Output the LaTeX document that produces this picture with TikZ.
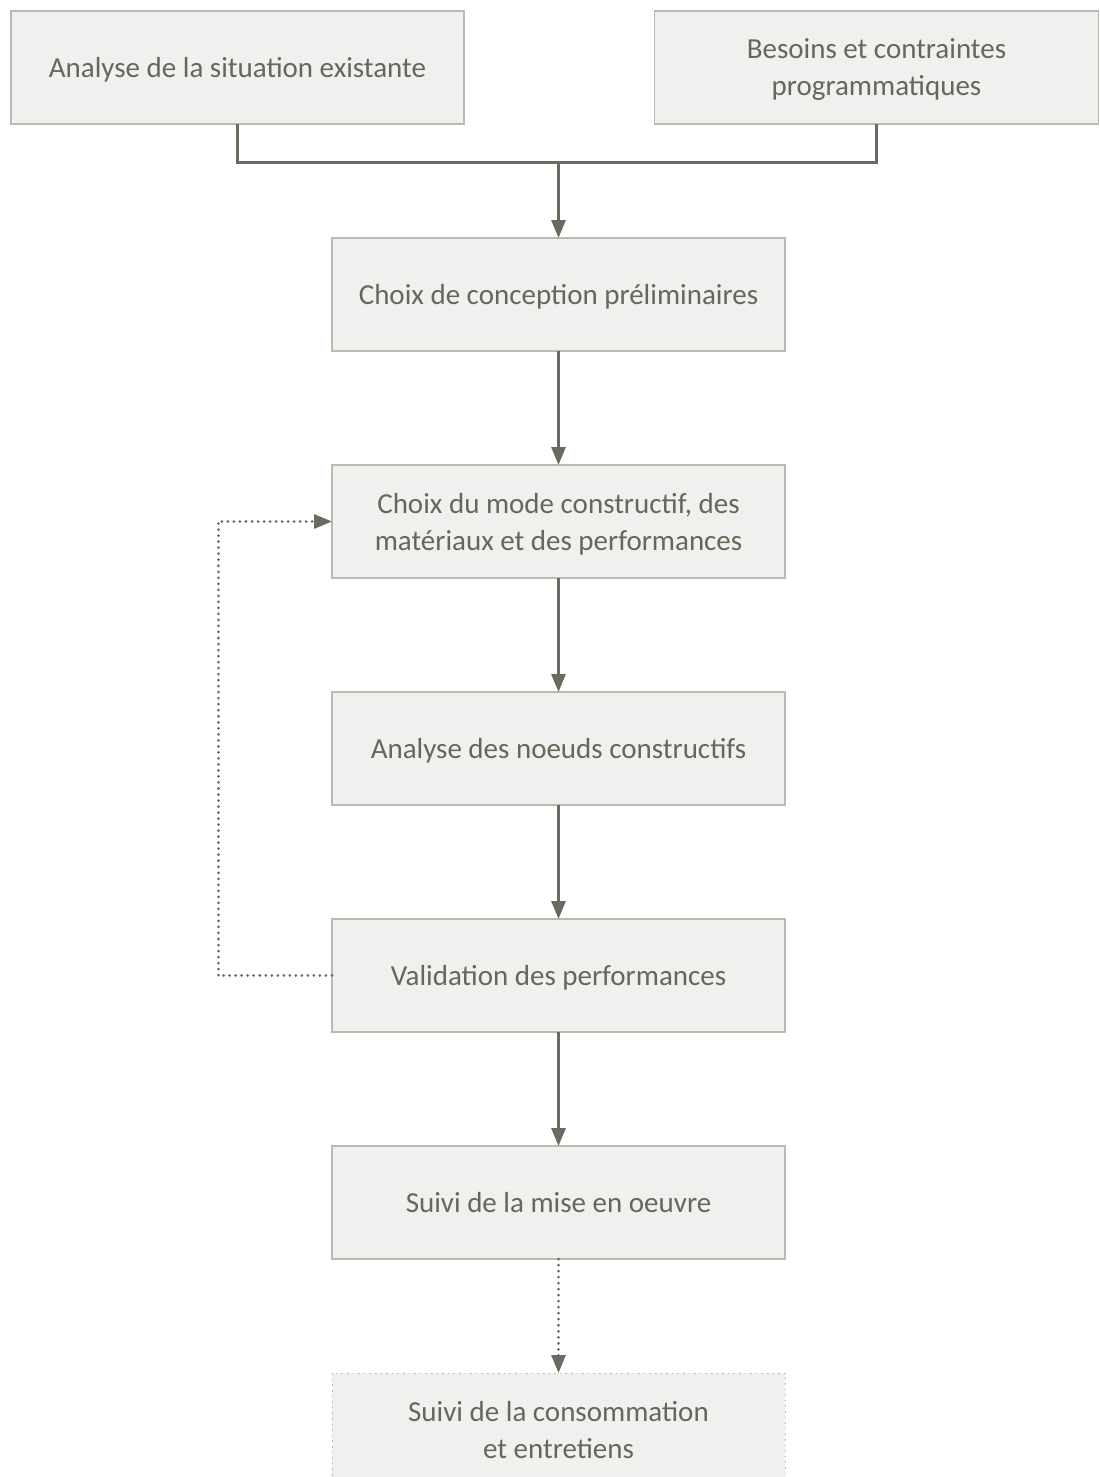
\documentclass[tikz,border=0pt]{standalone}
\usepackage{fontspec}
\setmainfont{Carlito}
\usetikzlibrary{arrows.meta, positioning}
\definecolor{boxfill}{HTML}{F0F0EE}
\definecolor{boxline}{HTML}{BCBAAC}
\definecolor{textgray}{HTML}{66675A}
\definecolor{linegray}{HTML}{6A6B5E}

\begin{document}
\begin{tikzpicture}[
            x=0.5pt, y=-0.5pt,
            node distance=57pt,
            block/.style={draw=boxline, line width=0.8pt, fill=boxfill, text=textgray, align=center, minimum width=226.5pt, minimum height=56.5pt, inner sep=0pt, outer sep=0pt, text depth=0pt, font=\fontsize{14.5}{18.5}\selectfont},
            lastblock/.style={block, dotted, line width=0.5pt},
            link/.style={draw=linegray, line width=1.5pt},
            arrow/.style={link, -{Triangle[length=9pt, width=7pt]}},
            dotarrow/.style={draw=linegray, line width=1.5pt, line cap=round, dash pattern=on 0.01pt off 3pt, -{Triangle[length=9pt, width=7pt]}}
        ]
            \useasboundingbox (0,0) rectangle (1099,1477);
            \node[block] (analyse) at (237.5,67.5) {Analyse de la situation existante};
            \node[block, minimum width=222pt] (besoins) at (876.5,67.5) {Besoins et contraintes\\programmatiques};
            \node[block] (conception) at (558.5,294.5) {Choix de conception préliminaires};
            \node[block, below=of conception] (mode) {Choix du mode constructif, des\\matériaux et des performances};
            \node[block, below=of mode] (noeuds) {Analyse des noeuds constructifs};
            \node[block, below=of noeuds] (validation) {Validation des performances};
            \node[block, below=of validation] (suivi) {Suivi de la mise en oeuvre};
            \node[lastblock, below=of suivi] (conso) {Suivi de la consommation\\et entretiens};
            \coordinate (join) at (558.5,162);
            \draw[link] (analyse.south) |- (join) -| (besoins.south);
            \draw[arrow] (join) -- (conception);
            \draw[arrow] (conception) -- (mode);
            \draw[arrow] (mode) -- (noeuds);
            \draw[arrow] (noeuds) -- (validation);
            \draw[arrow] (validation) -- (suivi);
            \draw[dotarrow] (suivi) -- (conso);
            \draw[dotarrow] (validation.west) -- ++(-57pt,0) |- (mode.west);
        \end{tikzpicture}
\end{document}
